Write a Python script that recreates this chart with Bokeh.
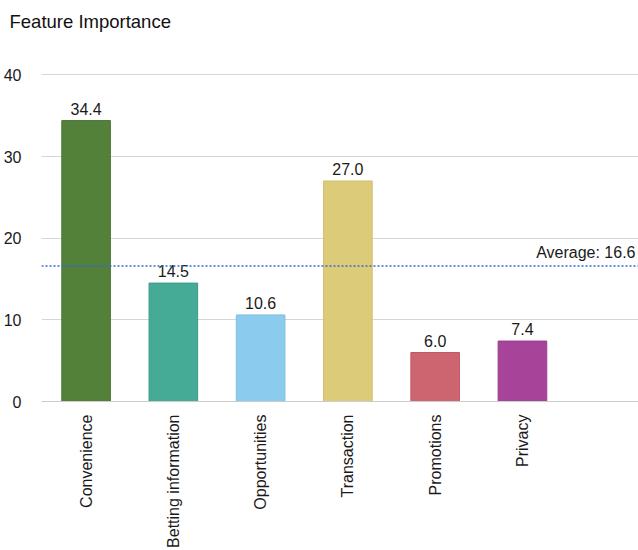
import math
from bokeh.plotting import figure
from bokeh.models import ColumnDataSource, LabelSet, Label, Span, FixedTicker, Range1d
from bokeh.core.properties import value
from bokeh.embed import file_html
from bokeh.resources import INLINE

# Feature importance scores per category
categories = ["Convenience", "Betting information", "Opportunities",
              "Transaction", "Promotions", "Privacy"]
values = [34.4, 14.5, 10.6, 27.0, 6.0, 7.4]
average = 16.6
y_ticks = [0, 10, 20, 30, 40]

fill_colors = ["#53813A", "#45AA96", "#8ACBEE", "#DCCB79", "#CD6571", "#A7449A"]
edge_colors = ["#4A7633", "#3C9B88", "#7DBDE0", "#D0BE6A", "#C25866", "#9A3A8D"]

FONT = "Liberation Sans"

positions = list(range(len(categories)))
source = ColumnDataSource(dict(
    x=positions,
    top=values,
    label=[f"{v:.1f}" for v in values],
    fill=fill_colors,
    edge=edge_colors,
))

p = figure(
    width=638, height=550,
    x_range=Range1d(-0.511, 6.33),
    y_range=Range1d(0, 44.33),
    output_backend="svg", toolbar_location=None,
    min_border_left=36, min_border_right=0,
    min_border_bottom=0, min_border_top=0,
    title="Feature Importance",
)
p.outline_line_color = None
p.background_fill_color = "white"
p.border_fill_color = "white"

p.title.text_font = FONT
p.title.text_font_size = "18.5px"
p.title.text_font_style = "normal"
p.title.text_color = "#111111"
p.title.offset = -32
p.title.standoff = 16

# Bars
p.vbar(x="x", top="top", bottom=0, width=0.557, source=source,
       fill_color="fill", line_color="edge", line_width=1)

# Value labels on top of each bar
labels = LabelSet(x="x", y="top", text="label", source=source,
                  text_align="center", text_baseline="bottom", y_offset=6,
                  text_font=value(FONT), text_font_size=value("16px"),
                  text_color="#1a1a1a",
                  background_fill_color="white")
p.add_layout(labels)

# Average reference line
avg_line = Span(location=average, dimension="width", line_color="#3568D4",
                line_width=1.5, line_dash="2 2")
p.add_layout(avg_line)
avg_label = Label(x=p.x_range.end, y=average, text=f"Average: {average}",
                  text_align="right", text_baseline="bottom",
                  x_offset=-3, y_offset=5,
                  text_font=FONT, text_font_size="16px", text_color="#1a1a1a",
                  background_fill_color="white")
p.add_layout(avg_label)

# Axes and grid
p.xaxis.ticker = FixedTicker(ticks=positions)
p.xaxis.major_label_overrides = {i: c for i, c in zip(positions, categories)}
p.xaxis.major_label_orientation = math.pi / 2
p.xaxis.major_label_text_font = FONT
p.xaxis.major_label_text_font_size = "16px"
p.xaxis.major_label_text_color = "#1a1a1a"
p.xaxis.major_label_standoff = 7
p.xaxis.major_tick_line_color = None
p.xaxis.minor_tick_line_color = None
p.xaxis.axis_line_color = "#cccccc"

p.yaxis.ticker = FixedTicker(ticks=y_ticks)
p.yaxis.major_label_text_font = FONT
p.yaxis.major_label_text_font_size = "16px"
p.yaxis.major_label_text_color = "#1a1a1a"
p.yaxis.major_label_standoff = 14
p.yaxis.major_tick_line_color = None
p.yaxis.minor_tick_line_color = None
p.yaxis.axis_line_color = None

p.xgrid.grid_line_color = None
p.ygrid.ticker = FixedTicker(ticks=y_ticks)
p.ygrid.grid_line_color = "#d6d6d6"
p.ygrid.grid_line_width = 1

open("out.html", "w").write(file_html(p, INLINE))
